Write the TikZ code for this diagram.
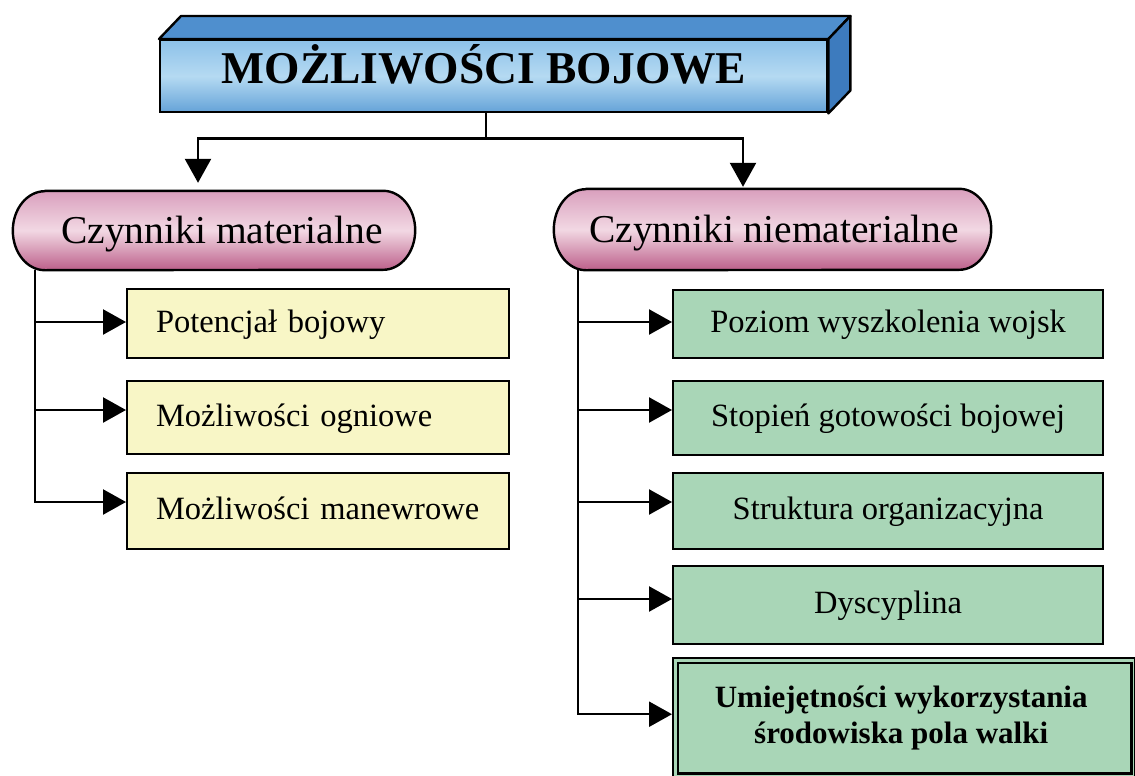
\documentclass[tikz,border=0pt]{standalone}
\usepackage{fontspec}
\setmainfont{Liberation Serif}
\usetikzlibrary{arrows.meta}
\definecolor{yfill}{HTML}{F8F6C6}
\definecolor{gfill}{HTML}{A9D6B7}
\definecolor{pinkT}{HTML}{D99FBD}
\definecolor{pinkM}{HTML}{F2D8E3}
\definecolor{pinkB}{HTML}{BC5F8A}
\definecolor{blueT}{HTML}{8DC1E9}
\definecolor{blueM}{HTML}{B5DAF2}
\definecolor{blueB}{HTML}{65A3D8}
\definecolor{blueTop}{HTML}{4F8FCE}
\definecolor{blueSide}{HTML}{3D7BBE}
\begin{document}
\begin{tikzpicture}[x=1pt,y=-1pt,
  conn/.style={draw=black,line width=2.4pt},
  arr/.style={conn,-{Triangle[length=23pt,width=25pt]}},
  varr/.style={conn,-{Triangle[length=24pt,width=26pt]}},
  pillshape/.style={draw=black,line width=2.4pt,line join=round,top color=pinkT,bottom color=pinkB,middle color=pinkM},
  pillbox/.style={inner sep=0pt},
  pilltext/.style={inner sep=0pt,font=\fontsize{39.5}{44}\selectfont,text height=29pt,text depth=4pt},
  ybox/.style={draw=black,line width=2.2pt,fill=yfill,anchor=west,inner ysep=0pt,inner xsep=29pt,text width=324pt,align=left,font=\fontsize{32.5}{38}\selectfont,text height=23pt,text depth=6pt},
  gbox/.style={draw=black,line width=2.2pt,fill=gfill,anchor=west,inner sep=0pt,minimum width=430pt,font=\fontsize{32.5}{38}\selectfont,text height=23pt,text depth=6pt},
  front/.style={draw=black,line width=2.4pt,top color=blueT,bottom color=blueB,middle color=blueM,inner sep=0pt},
  face/.style={draw=black,line width=2.4pt,line join=round}
]
\useasboundingbox (0,0) rectangle (1135,776);
\fill[white] (0,0) rectangle (1135,776);

% title block
\node[front,anchor=north west,minimum width=667pt,minimum height=72pt] (title) at (159,39) {};
\path[face,fill=blueTop] (title.north west) -- ++(22,-23) -- ([shift={(22,-23)}]title.north east) -- (title.north east) -- cycle;
\path[face,fill=blueSide] (title.north east) -- ([shift={(22,-23)}]title.north east) -- ([shift={(22,-23)}]title.south east) -- (title.south east) -- cycle;
\node[anchor=base,inner sep=0pt,font=\bfseries\fontsize{45.5}{50}\selectfont] (tt) at (484,84) {MOŻLIWOŚCI BOJOWE};

% pills
\node[pillbox,minimum width=402pt,minimum height=79pt] (lp) at (214,230.5) {};
\path[pillshape] ([xshift=32pt]lp.north west) -- ([xshift=-32pt]lp.north east)
  arc[start angle=90,end angle=-90,x radius=32pt,y radius=39.5pt]
  -- ([xshift=32pt]lp.south west)
  arc[start angle=270,end angle=90,x radius=32pt,y radius=39.5pt] -- cycle;
\node[pilltext] (lpt) at ([xshift=8pt]lp.center) {Czynniki materialne};

\node[pillbox,minimum width=437pt,minimum height=81pt] (rp) at (772.5,229.5) {};
\path[pillshape] ([xshift=32pt]rp.north west) -- ([xshift=-32pt]rp.north east)
  arc[start angle=90,end angle=-90,x radius=32pt,y radius=40.5pt]
  -- ([xshift=32pt]rp.south west)
  arc[start angle=270,end angle=90,x radius=32pt,y radius=40.5pt] -- cycle;
\node[pilltext] (rpt) at ([xshift=1.5pt]rp.center) {Czynniki niematerialne};

% title connectors
\coordinate (tj) at ([xshift=-7.5pt,yshift=-25pt]title.south);
\draw[conn] ([xshift=-7.5pt]title.south) -- (tj);
\draw[varr,shorten >=8pt] (tj) -| ([xshift=-16pt]lp.north);
\draw[varr,shorten >=2pt] (tj) -| ([xshift=-29.5pt]rp.north);

% yellow boxes
\node[ybox,minimum height=69pt] (y1) at (126,323.5) {Potencjał bojowy};
\node[ybox,minimum height=73pt] (y2) at (126,417.5) {Możliwości ogniowe};
\node[ybox,minimum height=76pt] (y3) at (126,511) {Możliwości manewrowe};

% green boxes
\node[gbox,minimum height=68pt] (g1) at (672,324) {Poziom wyszkolenia wojsk};
\node[gbox,minimum height=74pt] (g2) at (672,418) {Stopień gotowości bojowej};
\node[gbox,minimum height=76pt] (g3) at (672,511) {Struktura organizacyjna};
\node[gbox,minimum height=78pt] (g4) at (672,605) {Dyscyplina};
\node[draw=black,line width=2.4pt,fill=gfill,anchor=north west,inner sep=0pt,minimum width=462pt,minimum height=120pt] (g5) at (672,657) {};
\draw[line width=2.2pt] ([shift={(6,6)}]g5.north west) rectangle ([shift={(-5,-6)}]g5.south east);
\node[inner sep=0pt,align=center,font=\bfseries\fontsize{31}{36}\selectfont] (g5t) at ([xshift=-3pt]g5.center) {Umiejętności wykorzystania\\środowiska pola walki};

% left trunk
\coordinate (tl) at ([xshift=22pt]lp.south west);
\coordinate (a1) at ([yshift=1.5pt]y1.west);
\coordinate (a2) at ([yshift=7.5pt]y2.west);
\coordinate (a3) at ([yshift=9pt]y3.west);
\draw[arr] (tl) |- (a3);
\draw[arr] (tl |- a1) -- (a1);
\draw[arr] (tl |- a2) -- (a2);

% right trunk
\coordinate (tr) at ([xshift=24pt]rp.south west);
\coordinate (b1) at ([yshift=2pt]g1.west);
\coordinate (b2) at ([yshift=8pt]g2.west);
\coordinate (b3) at ([yshift=9pt]g3.west);
\coordinate (b4) at ([yshift=6pt]g4.west);
\coordinate (b5) at ([yshift=4pt]g5.west);
\draw[arr] (tr) |- (b5);
\draw[arr] (tr |- b1) -- (b1);
\draw[arr] (tr |- b2) -- (b2);
\draw[arr] (tr |- b3) -- (b3);
\draw[arr] (tr |- b4) -- (b4);
\end{tikzpicture}
\end{document}
